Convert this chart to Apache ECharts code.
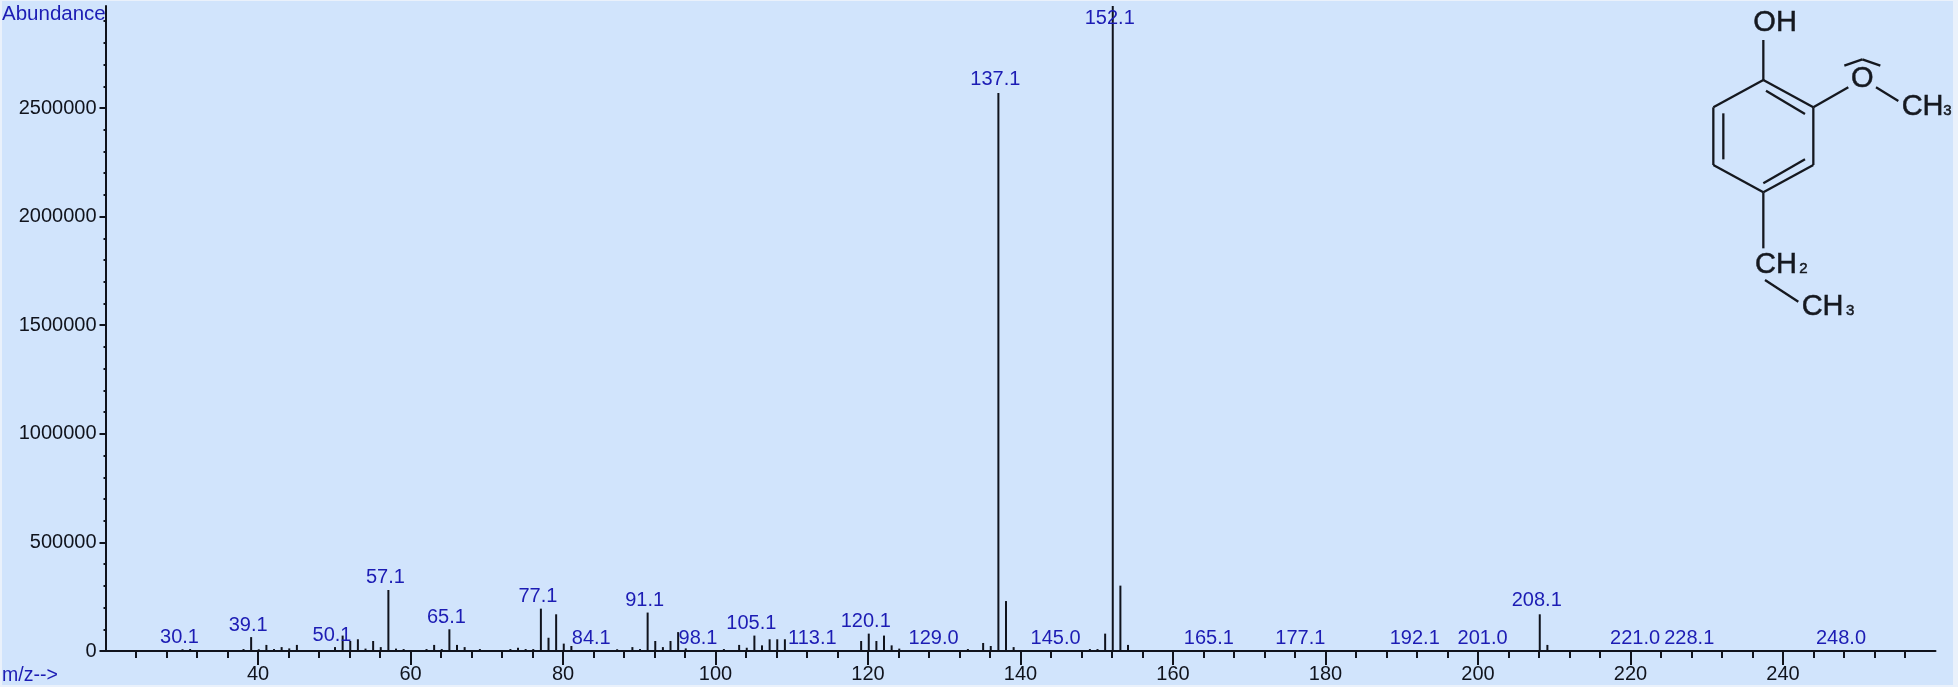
<!DOCTYPE html>
<html><head><meta charset="utf-8">
<style>html,body{margin:0;padding:0;background:#eaf1fb}#c{width:1958px;height:687px}</style>
<script src="https://cdn.jsdelivr.net/npm/echarts@6/dist/echarts.min.js"></script>
</head><body><div id="c"></div>
<script>
const mzValues = [30.1,31.1,38.1,39.1,40.1,41.1,42.1,43.1,44.1,45.1,50.1,51.1,52.1,53.1,54.1,55.1,56.1,57.1,58.1,59.1,62.1,63.1,64.1,65.1,66.1,67.1,69.1,73.1,74.1,75.1,76.1,77.1,78.1,79.1,80.1,81.1,84.1,87.1,89.1,90.1,91.1,92.1,93.1,94.1,95.1,96.1,98.1,101.1,103.1,104.1,105.1,106.1,107.1,108.1,109.1,113.1,119.1,120.1,121.1,122.1,123.1,124.1,129.0,133.1,135.1,136.1,137.1,138.1,139.1,145.0,149.1,150.1,151.1,152.1,153.1,154.1,165.1,177.1,192.1,201.0,208.1,209.1,221.0,228.1,248.0];
const abundance = [8000,9000,9000,64000,8000,28000,9000,18000,12000,28000,18000,71000,46000,54000,11000,46000,18000,281000,11000,9000,9000,28000,9000,100000,28000,18000,9000,9000,15000,9000,9000,195000,61000,169000,34000,23000,3000,8000,18000,9000,177000,46000,18000,46000,87000,12000,4000,9000,28000,15000,71000,26000,54000,54000,54000,4000,46000,80000,46000,71000,26000,11000,4000,9000,37000,23000,2569000,230000,18000,3000,9000,9000,80000,2970000,301000,28000,3000,3000,3000,3000,169000,28000,3000,3000,3000];
const labelledPeaks = ['30.1','39.1','50.1','57.1','65.1','77.1','84.1','91.1','98.1','105.1','113.1','120.1','129.0','137.1','145.0','152.1','165.1','177.1','192.1','201.0','208.1','221.0','228.1','248.0'];
const xMajorTicks = [40,60,80,100,120,140,160,180,200,220,240];
const xMinorTicks = [24,28,32,36,40,44,48,52,56,60,64,68,72,76,80,84,88,92,96,100,104,108,112,116,120,124,128,132,136,140,144,148,152,156,160,164,168,172,176,180,184,188,192,196,200,204,208,212,216,220,224,228,232,236,240,244,248,252,256];
const yMajorTicks = [0,500000,1000000,1500000,2000000,2500000];
const yMinorTicks = [100000,200000,300000,400000,600000,700000,800000,900000,1100000,1200000,1300000,1400000,1600000,1700000,1800000,1900000,2100000,2200000,2300000,2400000,2600000,2700000,2800000,2900000];

const INK = '#10131c', BLUE = '#1c1cb4', FONT = '"Liberation Sans", Arial, sans-serif';
const OX = 1660, S = 3;
const bond = (x1,y1,x2,y2) => ({type:'line', silent:true, z:5,
  shape:{x1:OX+x1/S,y1:y1/S,x2:OX+x2/S,y2:y2/S}, style:{stroke:'#15181f',lineWidth:2.3}});
const atom = (t,x,y,size) => ({type:'text', silent:true, z:5, x:OX+x/S, y:y/S,
  style:{text:t,fill:'#15181f',stroke:'#15181f',lineWidth:0.5,font:size+'px '+FONT,textAlign:'left',textVerticalAlign:'middle'}});
const molecule = [
  bond(310,240,460,322),bond(460,322,460,495),bond(460,495,310,577),bond(310,577,160,495),bond(160,495,160,322),bond(160,322,310,240),
  bond(318,272,435,342),bond(190,340,190,478),bond(310,550,435,478),
  bond(310,240,310,120),bond(460,322,565,262),bond(648,262,715,303),
  bond(310,577,310,745),bond(315,840,415,905),
  bond(553,197,607,178),bond(607,178,661,197),
  atom('OH',280,68,29),atom('O',573,238,29),
  atom('CH',725,322,29),atom('3',850,332,15),
  atom('CH',285,795,29),atom('2',418,808,15),
  atom('CH',425,920,29),atom('3',558,934,15)
];
const labelLift = {'152.1':[-3,23],'137.1':[-3,-3],'208.1':[-3,-3]};
const peaks = mzValues.map((mz,i)=>{
  const name = mz.toFixed(1), item = {value:[mz,abundance[i]]};
  if (labelledPeaks.includes(name)) {
    item.label = {show:true, formatter:name, position:'top', distance:1,
      offset: labelLift[name] || [-3,-1]};
  }
  return item;
});
const chart = echarts.init(document.getElementById('c'),null,{renderer:'canvas'});
const xBase = {type:'value',min:20,max:260,splitLine:{show:false},position:'bottom'};
const yBase = {type:'value',min:0,max:2970000,splitLine:{show:false},position:'left'};
chart.setOption({
  animation:false,
  backgroundColor:'transparent',
  grid:{left:105.5,right:22.5,top:6,bottom:36},
  xAxis:[
    {...xBase, axisLine:{lineStyle:{color:INK,width:2},onZero:false},
      axisTick:{customValues:xMajorTicks,length:14,lineStyle:{color:INK,width:2}},
      axisLabel:{customValues:xMajorTicks,color:INK,fontFamily:FONT,fontSize:20,margin:13}},
    {...xBase, axisLine:{show:false},
      axisTick:{customValues:xMinorTicks,length:7,lineStyle:{color:INK,width:2}},
      axisLabel:{show:false}}
  ],
  yAxis:[
    {...yBase, axisLine:{lineStyle:{color:INK,width:2},onZero:false},
      axisTick:{customValues:yMajorTicks,length:6,lineStyle:{color:INK,width:2}},
      axisLabel:{customValues:yMajorTicks,color:INK,fontFamily:FONT,fontSize:20,margin:9,formatter:v=>String(v)}},
    {...yBase, axisLine:{show:false},
      axisTick:{customValues:yMinorTicks,length:2,lineStyle:{color:INK,width:2}},
      axisLabel:{show:false}}
  ],
  series:[{type:'bar',xAxisIndex:0,yAxisIndex:0,barWidth:2,clip:false,
    itemStyle:{color:INK},
    label:{show:false,color:BLUE,fontFamily:FONT,fontSize:20},
    data:peaks}],
  graphic:[
    {type:'rect',silent:true,z:-10,shape:{x:2,y:1,width:1951,height:684},style:{fill:'#d1e4fc'}},
    {type:'text',silent:true,z:5,x:2,y:14,style:{text:'Abundance',fill:BLUE,font:'20.5px '+FONT,textVerticalAlign:'middle'}},
    {type:'text',silent:true,z:5,x:2,y:676,style:{text:'m/z-->',fill:BLUE,font:'19.5px '+FONT,textVerticalAlign:'middle'}},
    ...molecule
  ]
});
</script></body></html>
